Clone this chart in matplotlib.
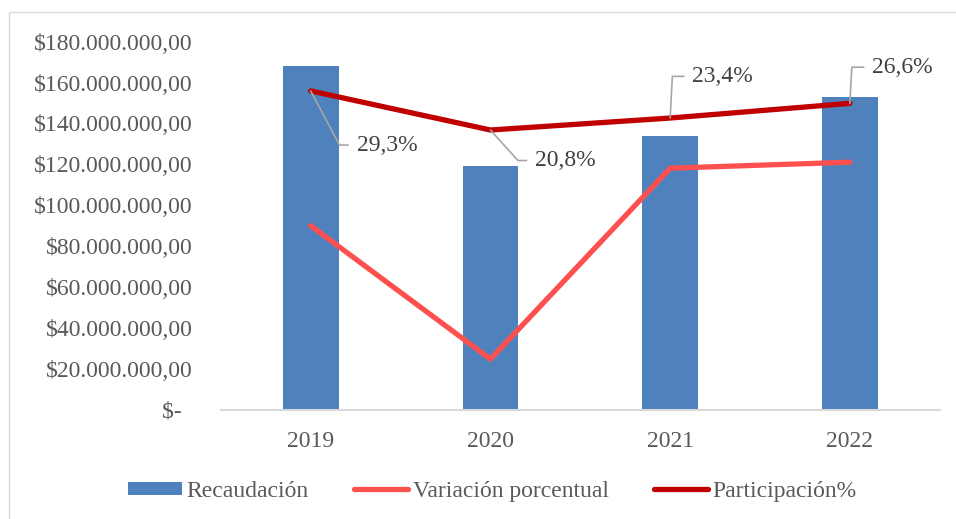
import matplotlib
matplotlib.use("Agg")
import matplotlib.pyplot as plt
from matplotlib.patches import Rectangle
from matplotlib.ticker import FuncFormatter

# Data
years = ["2019", "2020", "2021", "2022"]
recaudacion = [168300000, 119200000, 134000000, 152800000]
variacion = [0.0, -0.290, 0.125, 0.138]
participacion = [0.293, 0.208, 0.234, 0.266]
# label offsets (points) for participación labels
label_offsets = [(33, -39), (32, -22), (16, 30), (16, 26)]
leader_angles = [-62, -48, 87, 87]

plt.rcParams["font.family"] = ["Liberation Serif", "DejaVu Serif"]
plt.rcParams["font.size"] = 17
gray_text = "#595959"

fig = plt.figure(figsize=(9.56, 5.19), dpi=100)
ax = fig.add_axes([0.231, 0.2106, 0.752, 0.7091])

x = list(range(len(years)))
bars = ax.bar(x, recaudacion, width=0.31, color="#4F81BD", label="Recaudación", zorder=2)
ax.set_xlim(-0.5, 3.5)
ax.set_ylim(0, 180000000)
ax.set_yticks(range(0, 180000001, 20000000))


def money(v, pos):
    if v == 0:
        return "$-  "
    s = f"{int(round(v)):,}".replace(",", ".")
    return f"${s},00"


ax.yaxis.set_major_formatter(FuncFormatter(money))
ax.set_xticks(x)
ax.set_xticklabels(years)
ax.tick_params(axis="y", length=0, pad=20, labelcolor=gray_text, labelsize=17)
ax.tick_params(axis="x", length=0, pad=15, labelcolor=gray_text, labelsize=17)
for side in ["top", "right", "left"]:
    ax.spines[side].set_visible(False)
ax.spines["bottom"].set_color("#D9D9D9")
ax.spines["bottom"].set_linewidth(1.5)

# secondary (hidden) axis for the percentage lines
ax2 = ax.twinx()
ax2.set_ylim(-0.4, 0.4)
ax2.axis("off")
l1, = ax2.plot(x, variacion, color="#FF5050", lw=3.8, solid_capstyle="round",
               solid_joinstyle="round", label="Variación porcentual")
l2, = ax2.plot(x, participacion, color="#C00000", lw=3.8, solid_capstyle="round",
               solid_joinstyle="round", label="Participación%")

for xi, val, off, ang in zip(x, participacion, label_offsets, leader_angles):
    ax2.annotate(f"{val * 100:.1f}%".replace(".", ","), xy=(xi, val),
                 xytext=off, textcoords="offset points", ha="left", va="center",
                 color="#404040", fontsize=17,
                 arrowprops=dict(arrowstyle="-", color="#A6A6A6", lw=1.2,
                                 shrinkA=4, shrinkB=0, relpos=(0, 0.5),
                                 connectionstyle=f"angle,angleA=0,angleB={ang},rad=0"))

fig.legend(handles=[bars, l1, l2], loc="center", bbox_to_anchor=(0.515, 0.053),
           ncol=3, frameon=False, handlelength=2.3, handleheight=0.5,
           handletextpad=0.2, columnspacing=1.9, labelcolor=gray_text, fontsize=17)

fig.patches.append(Rectangle((9 / 956, -0.1), 1.2, 1.1 - 12 / 519, transform=fig.transFigure,
                             fill=False, edgecolor="#D9D9D9", lw=1))

fig.savefig("out.png", dpi=100)
